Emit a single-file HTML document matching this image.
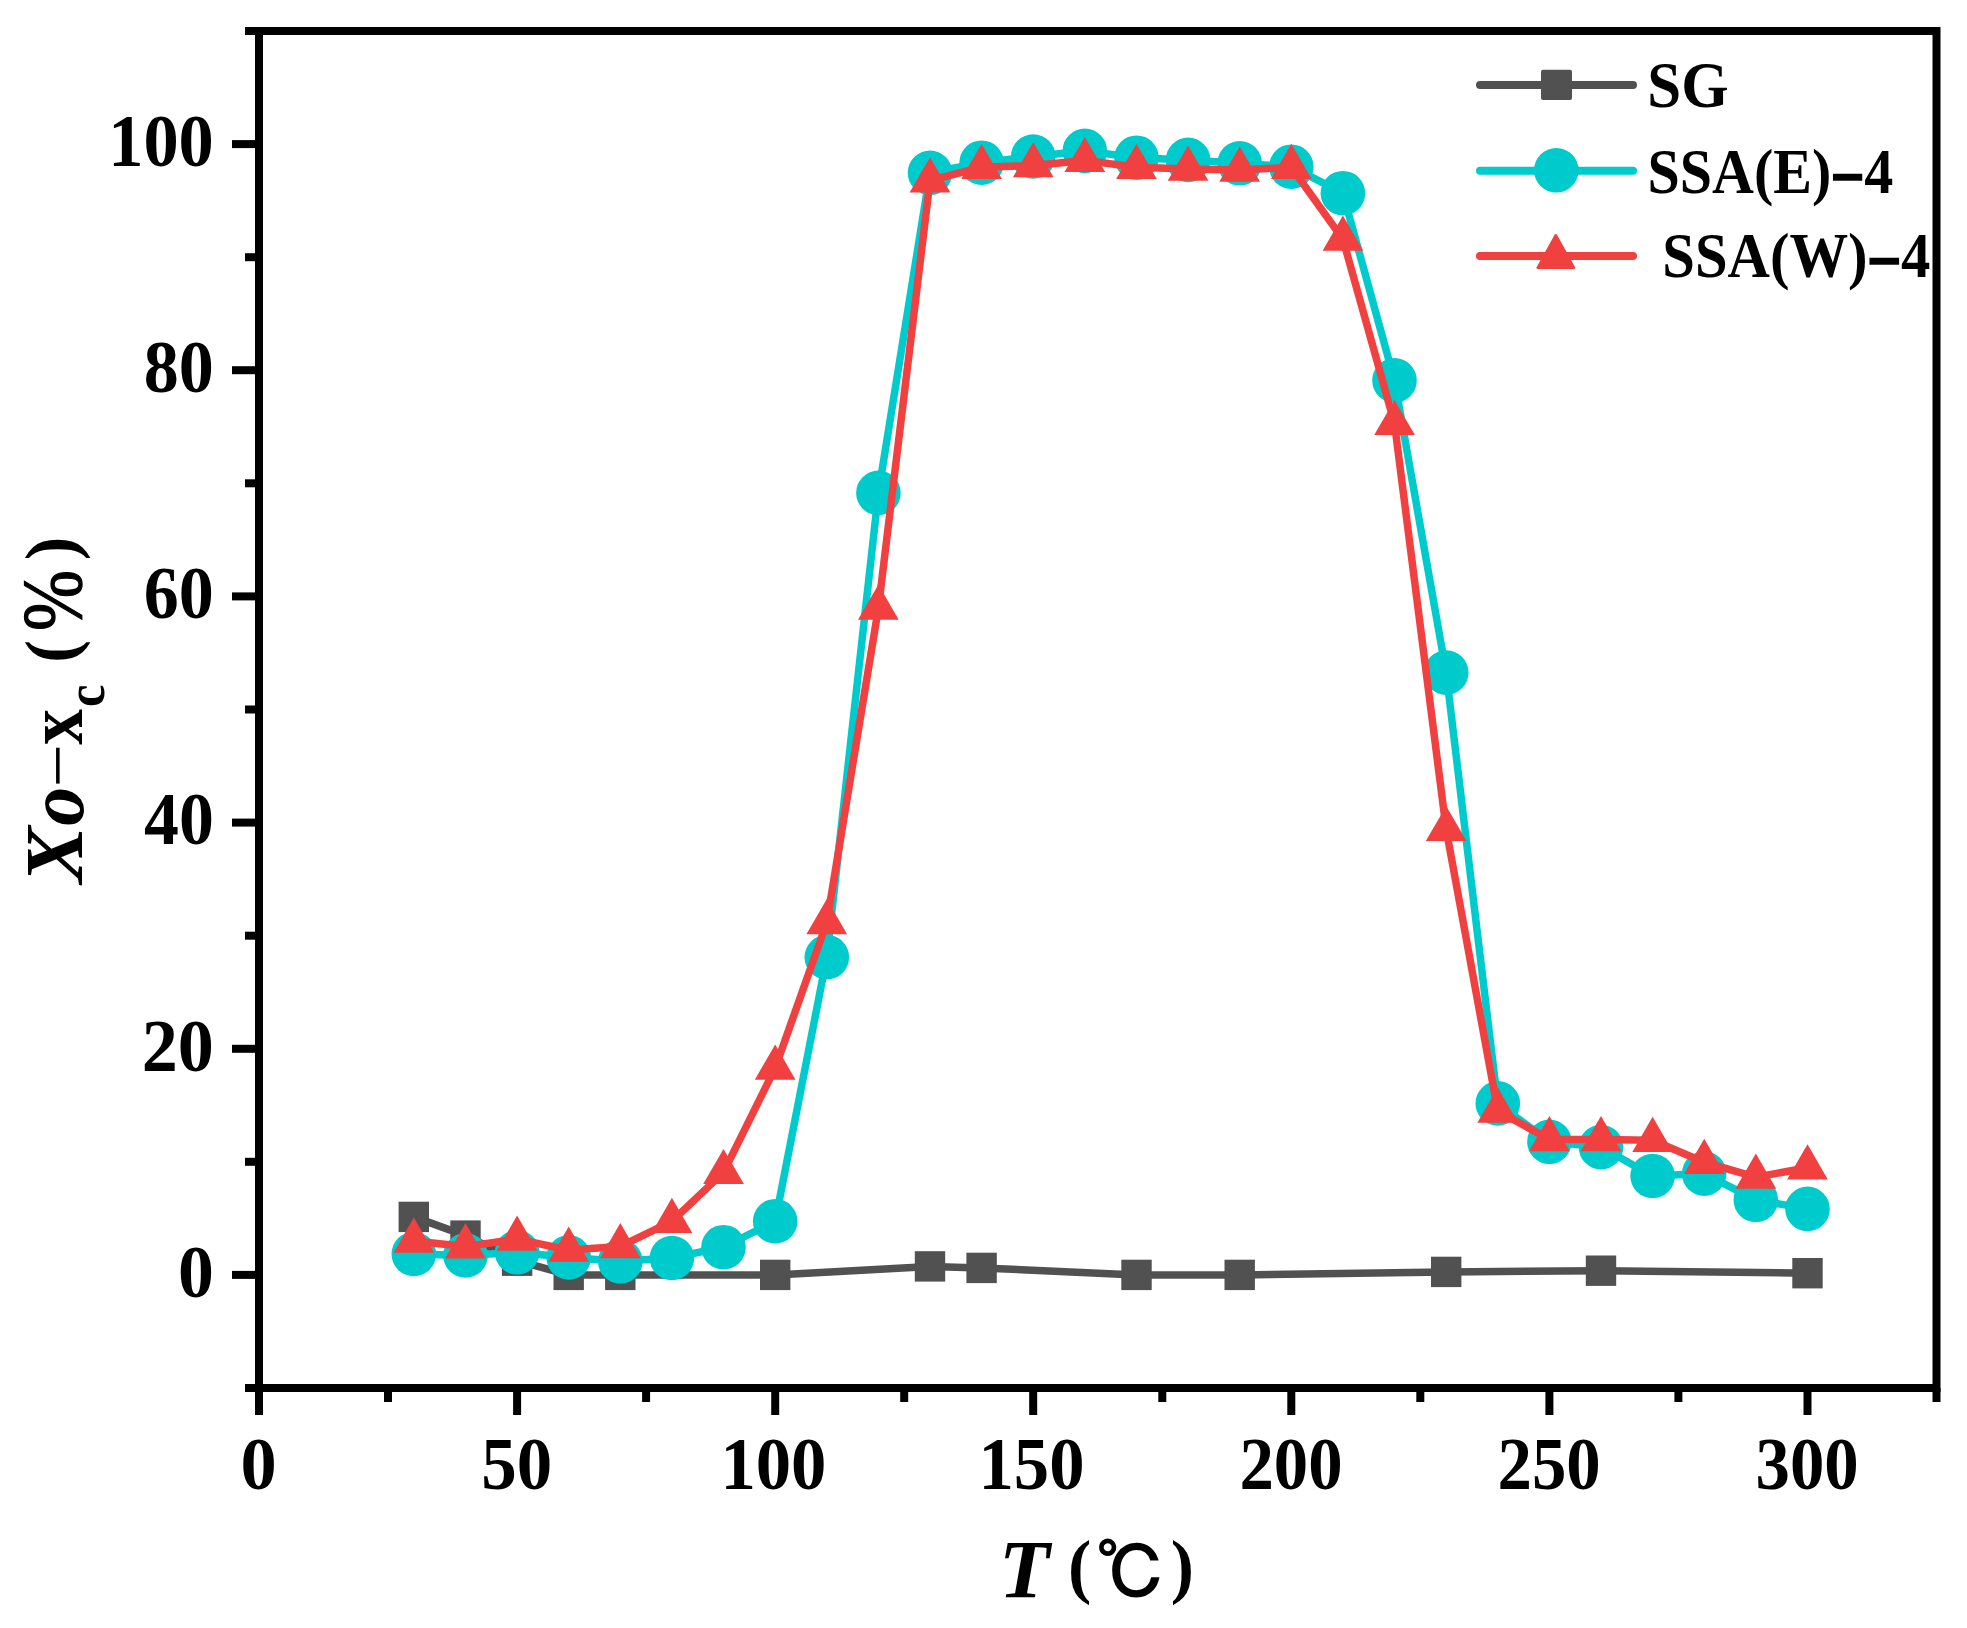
<!DOCTYPE html>
<html><head><meta charset="utf-8"><title>Chart</title>
<style>html,body{margin:0;padding:0;background:#fff}svg{display:block}</style></head>
<body>
<svg width="1967" height="1628" viewBox="0 0 1967 1628">
<rect width="1967" height="1628" fill="#fff"/>
<g id="sg">
<polyline fill="none" stroke="#515151" stroke-width="7.5" stroke-linejoin="round" points="413.8,1216.9 465.5,1235.6 517.1,1260.7 568.7,1274.9 620.3,1274.9 775.2,1274.9 930.0,1266.4 981.6,1267.9 1136.5,1274.9 1239.7,1274.9 1446.2,1271.9 1601.0,1270.7 1807.5,1273.2"/>
<rect x="398.6" y="1201.7" width="30.4" height="30.4" fill="#515151"/>
<rect x="450.3" y="1220.4" width="30.4" height="30.4" fill="#515151"/>
<rect x="501.9" y="1245.5" width="30.4" height="30.4" fill="#515151"/>
<rect x="553.5" y="1259.7" width="30.4" height="30.4" fill="#515151"/>
<rect x="605.1" y="1259.7" width="30.4" height="30.4" fill="#515151"/>
<rect x="760.0" y="1259.7" width="30.4" height="30.4" fill="#515151"/>
<rect x="914.8" y="1251.2" width="30.4" height="30.4" fill="#515151"/>
<rect x="966.4" y="1252.7" width="30.4" height="30.4" fill="#515151"/>
<rect x="1121.3" y="1259.7" width="30.4" height="30.4" fill="#515151"/>
<rect x="1224.5" y="1259.7" width="30.4" height="30.4" fill="#515151"/>
<rect x="1431.0" y="1256.7" width="30.4" height="30.4" fill="#515151"/>
<rect x="1585.8" y="1255.5" width="30.4" height="30.4" fill="#515151"/>
<rect x="1792.3" y="1258.0" width="30.4" height="30.4" fill="#515151"/>
</g>
<g id="e">
<polyline fill="none" stroke="#00cbcc" stroke-width="7.5" stroke-linejoin="round" points="413.8,1254.0 465.5,1255.4 517.1,1252.3 568.7,1257.4 620.3,1261.3 671.9,1258.0 723.5,1247.2 775.2,1221.2 826.8,957.2 878.4,492.9 930.0,172.8 981.6,162.7 1033.2,156.5 1084.8,150.9 1136.5,157.7 1188.1,159.9 1239.7,163.3 1291.3,166.7 1342.9,193.2 1394.5,380.4 1446.2,672.6 1497.8,1103.4 1549.4,1141.8 1601.0,1147.1 1652.6,1176.0 1704.2,1173.6 1755.8,1199.9 1807.5,1208.9"/>
<circle cx="413.8" cy="1254.0" r="22.3" fill="#00cbcc"/>
<circle cx="465.5" cy="1255.4" r="22.3" fill="#00cbcc"/>
<circle cx="517.1" cy="1252.3" r="22.3" fill="#00cbcc"/>
<circle cx="568.7" cy="1257.4" r="22.3" fill="#00cbcc"/>
<circle cx="620.3" cy="1261.3" r="22.3" fill="#00cbcc"/>
<circle cx="671.9" cy="1258.0" r="22.3" fill="#00cbcc"/>
<circle cx="723.5" cy="1247.2" r="22.3" fill="#00cbcc"/>
<circle cx="775.2" cy="1221.2" r="22.3" fill="#00cbcc"/>
<circle cx="826.8" cy="957.2" r="22.3" fill="#00cbcc"/>
<circle cx="878.4" cy="492.9" r="22.3" fill="#00cbcc"/>
<circle cx="930.0" cy="172.8" r="22.3" fill="#00cbcc"/>
<circle cx="981.6" cy="162.7" r="22.3" fill="#00cbcc"/>
<circle cx="1033.2" cy="156.5" r="22.3" fill="#00cbcc"/>
<circle cx="1084.8" cy="150.9" r="22.3" fill="#00cbcc"/>
<circle cx="1136.5" cy="157.7" r="22.3" fill="#00cbcc"/>
<circle cx="1188.1" cy="159.9" r="22.3" fill="#00cbcc"/>
<circle cx="1239.7" cy="163.3" r="22.3" fill="#00cbcc"/>
<circle cx="1291.3" cy="166.7" r="22.3" fill="#00cbcc"/>
<circle cx="1342.9" cy="193.2" r="22.3" fill="#00cbcc"/>
<circle cx="1394.5" cy="380.4" r="22.3" fill="#00cbcc"/>
<circle cx="1446.2" cy="672.6" r="22.3" fill="#00cbcc"/>
<circle cx="1497.8" cy="1103.4" r="22.3" fill="#00cbcc"/>
<circle cx="1549.4" cy="1141.8" r="22.3" fill="#00cbcc"/>
<circle cx="1601.0" cy="1147.1" r="22.3" fill="#00cbcc"/>
<circle cx="1652.6" cy="1176.0" r="22.3" fill="#00cbcc"/>
<circle cx="1704.2" cy="1173.6" r="22.3" fill="#00cbcc"/>
<circle cx="1755.8" cy="1199.9" r="22.3" fill="#00cbcc"/>
<circle cx="1807.5" cy="1208.9" r="22.3" fill="#00cbcc"/>
</g>
<g id="w">
<polyline fill="none" stroke="#f14040" stroke-width="7.5" stroke-linejoin="round" points="413.8,1241.0 465.5,1246.6 517.1,1239.1 568.7,1250.0 620.3,1246.4 671.9,1221.3 723.5,1172.4 775.2,1068.0 826.8,922.5 878.4,608.1 930.0,180.7 981.6,167.2 1033.2,165.6 1084.8,160.4 1136.5,167.2 1188.1,169.0 1239.7,170.1 1291.3,167.2 1342.9,239.1 1394.5,423.4 1446.2,829.4 1497.8,1110.9 1549.4,1139.4 1601.0,1139.4 1652.6,1140.3 1704.2,1162.2 1755.8,1177.1 1807.5,1167.8"/>
<path d="M413.8,1217.5 L434.2,1252.7 L393.5,1252.7Z" fill="#f14040"/>
<path d="M465.5,1223.1 L485.8,1258.4 L445.1,1258.4Z" fill="#f14040"/>
<path d="M517.1,1215.6 L537.4,1250.8 L496.7,1250.8Z" fill="#f14040"/>
<path d="M568.7,1226.5 L589.0,1261.8 L548.3,1261.8Z" fill="#f14040"/>
<path d="M620.3,1222.9 L640.7,1258.2 L600.0,1258.2Z" fill="#f14040"/>
<path d="M671.9,1197.8 L692.3,1233.1 L651.6,1233.1Z" fill="#f14040"/>
<path d="M723.5,1148.9 L743.9,1184.1 L703.2,1184.1Z" fill="#f14040"/>
<path d="M775.2,1044.5 L795.5,1079.7 L754.8,1079.7Z" fill="#f14040"/>
<path d="M826.8,899.0 L847.1,934.3 L806.4,934.3Z" fill="#f14040"/>
<path d="M878.4,584.6 L898.7,619.8 L858.0,619.8Z" fill="#f14040"/>
<path d="M930.0,157.2 L950.4,192.5 L909.6,192.5Z" fill="#f14040"/>
<path d="M981.6,143.7 L1002.0,178.9 L961.3,178.9Z" fill="#f14040"/>
<path d="M1033.2,142.1 L1053.6,177.3 L1012.9,177.3Z" fill="#f14040"/>
<path d="M1084.8,136.9 L1105.2,172.1 L1064.5,172.1Z" fill="#f14040"/>
<path d="M1136.5,143.7 L1156.8,178.9 L1116.1,178.9Z" fill="#f14040"/>
<path d="M1188.1,145.5 L1208.4,180.7 L1167.7,180.7Z" fill="#f14040"/>
<path d="M1239.7,146.6 L1260.0,181.8 L1219.3,181.8Z" fill="#f14040"/>
<path d="M1291.3,143.7 L1311.7,178.9 L1271.0,178.9Z" fill="#f14040"/>
<path d="M1342.9,215.6 L1363.3,250.8 L1322.6,250.8Z" fill="#f14040"/>
<path d="M1394.5,399.9 L1414.9,435.1 L1374.2,435.1Z" fill="#f14040"/>
<path d="M1446.2,805.9 L1466.5,841.1 L1425.8,841.1Z" fill="#f14040"/>
<path d="M1497.8,1087.4 L1518.1,1122.7 L1477.4,1122.7Z" fill="#f14040"/>
<path d="M1549.4,1115.9 L1569.7,1151.2 L1529.0,1151.2Z" fill="#f14040"/>
<path d="M1601.0,1115.9 L1621.4,1151.2 L1580.6,1151.2Z" fill="#f14040"/>
<path d="M1652.6,1116.8 L1673.0,1152.1 L1632.3,1152.1Z" fill="#f14040"/>
<path d="M1704.2,1138.7 L1724.6,1173.9 L1683.9,1173.9Z" fill="#f14040"/>
<path d="M1755.8,1153.6 L1776.2,1188.8 L1735.5,1188.8Z" fill="#f14040"/>
<path d="M1807.5,1144.3 L1827.8,1179.6 L1787.1,1179.6Z" fill="#f14040"/>
</g>
<g stroke="#000" stroke-width="8" fill="none" stroke-linecap="butt">
<rect x="259.0" y="31.0" width="1677.5" height="1357.0"/>
<line x1="245.0" y1="1388.0" x2="259.0" y2="1388.0"/>
<line x1="232.0" y1="1274.9" x2="259.0" y2="1274.9"/>
<line x1="245.0" y1="1161.8" x2="259.0" y2="1161.8"/>
<line x1="232.0" y1="1048.8" x2="259.0" y2="1048.8"/>
<line x1="245.0" y1="935.7" x2="259.0" y2="935.7"/>
<line x1="232.0" y1="822.6" x2="259.0" y2="822.6"/>
<line x1="245.0" y1="709.5" x2="259.0" y2="709.5"/>
<line x1="232.0" y1="596.4" x2="259.0" y2="596.4"/>
<line x1="245.0" y1="483.3" x2="259.0" y2="483.3"/>
<line x1="232.0" y1="370.2" x2="259.0" y2="370.2"/>
<line x1="245.0" y1="257.2" x2="259.0" y2="257.2"/>
<line x1="232.0" y1="144.1" x2="259.0" y2="144.1"/>
<line x1="245.0" y1="31.0" x2="259.0" y2="31.0"/>
<line x1="259.0" y1="1388.0" x2="259.0" y2="1415.0"/>
<line x1="388.0" y1="1388.0" x2="388.0" y2="1402.0"/>
<line x1="517.1" y1="1388.0" x2="517.1" y2="1415.0"/>
<line x1="646.1" y1="1388.0" x2="646.1" y2="1402.0"/>
<line x1="775.2" y1="1388.0" x2="775.2" y2="1415.0"/>
<line x1="904.2" y1="1388.0" x2="904.2" y2="1402.0"/>
<line x1="1033.2" y1="1388.0" x2="1033.2" y2="1415.0"/>
<line x1="1162.3" y1="1388.0" x2="1162.3" y2="1402.0"/>
<line x1="1291.3" y1="1388.0" x2="1291.3" y2="1415.0"/>
<line x1="1420.3" y1="1388.0" x2="1420.3" y2="1402.0"/>
<line x1="1549.4" y1="1388.0" x2="1549.4" y2="1415.0"/>
<line x1="1678.4" y1="1388.0" x2="1678.4" y2="1402.0"/>
<line x1="1807.5" y1="1388.0" x2="1807.5" y2="1415.0"/>
<line x1="1936.5" y1="1388.0" x2="1936.5" y2="1402.0"/>
</g>
<g stroke-width="8" stroke-linecap="round">
<line x1="1480" y1="84.9" x2="1633" y2="84.9" stroke="#515151"/>
<line x1="1480" y1="170.8" x2="1633" y2="170.8" stroke="#00cbcc"/>
<line x1="1480" y1="256.1" x2="1633" y2="256.1" stroke="#f14040"/>
</g>
<rect x="1541" y="69.8" width="31" height="30.2" rx="2" fill="#515151"/>
<circle cx="1556.3" cy="170.3" r="22.3" fill="#00cbcc"/>
<path d="M1555.8,235.2 L1574,267.8 L1537.6,267.8Z" fill="#f14040" stroke="#f14040" stroke-width="2.4" stroke-linejoin="round"/>
<g fill="#000" font-size="100">
<text font-family="'Liberation Serif', serif" font-weight="bold" transform="translate(178.03,1296.72) scale(0.7167,0.7463)">0</text>
<text font-family="'Liberation Serif', serif" font-weight="bold" transform="translate(141.82,1070.56) scale(0.7207,0.7463)">20</text>
<text font-family="'Liberation Serif', serif" font-weight="bold" transform="translate(144.00,844.39) scale(0.6979,0.7463)">40</text>
<text font-family="'Liberation Serif', serif" font-weight="bold" transform="translate(143.80,618.22) scale(0.7000,0.7463)">60</text>
<text font-family="'Liberation Serif', serif" font-weight="bold" transform="translate(143.80,392.06) scale(0.7000,0.7463)">80</text>
<text font-family="'Liberation Serif', serif" font-weight="bold" transform="translate(108.27,165.91) scale(0.7036,0.7353)">100</text>
<text font-family="'Liberation Serif', serif" font-weight="bold" transform="translate(240.60,1489.11) scale(0.7238,0.7463)">0</text>
<text font-family="'Liberation Serif', serif" font-weight="bold" transform="translate(481.29,1489.11) scale(0.7098,0.7463)">50</text>
<text font-family="'Liberation Serif', serif" font-weight="bold" transform="translate(720.40,1489.13) scale(0.7072,0.7353)">100</text>
<text font-family="'Liberation Serif', serif" font-weight="bold" transform="translate(978.47,1489.13) scale(0.7072,0.7353)">150</text>
<text font-family="'Liberation Serif', serif" font-weight="bold" transform="translate(1239.46,1489.11) scale(0.6873,0.7463)">200</text>
<text font-family="'Liberation Serif', serif" font-weight="bold" transform="translate(1497.54,1489.11) scale(0.6873,0.7463)">250</text>
<text font-family="'Liberation Serif', serif" font-weight="bold" transform="translate(1755.61,1489.11) scale(0.6873,0.7463)">300</text>
<text font-family="'Liberation Serif', serif" font-weight="bold" transform="translate(1647.35,107.40) scale(0.6095,0.6478)">SG</text>
<text font-family="'Liberation Serif', serif" font-weight="bold" transform="translate(1647.50,192.79) scale(0.5803,0.6244)">SSA(E)<tspan dy="8" stroke="#000" stroke-width="4">−</tspan><tspan dy="-8">4</tspan></text>
<text font-family="'Liberation Serif', serif" font-weight="bold" transform="translate(1662.27,277.39) scale(0.5869,0.6244)">SSA(W)<tspan dy="8" stroke="#000" stroke-width="4">−</tspan><tspan dy="-8">4</tspan></text>
<g id="xlabel"><text font-family="'Liberation Serif', serif" font-weight="bold" font-style="italic" transform="translate(999.10,1597.20) scale(0.8281,0.8215)">T </text><text font-family="'Liberation Serif', serif" font-weight="bold" transform="translate(1068.00,1590.04) scale(0.7000,0.7122)">(</text><text font-family="'Liberation Serif', 'IPAGothic', sans-serif" stroke="#000" stroke-width="2.2" transform="translate(1096.20,1599.44) scale(0.6988,0.7195)">℃</text><text font-family="'Liberation Serif', serif" font-weight="bold" transform="translate(1170.81,1590.04) scale(0.6962,0.7122)">)</text></g>
<g id="ylabel"><text font-family="'Liberation Serif', serif" font-weight="bold" font-style="italic" transform="translate(82.30,883.19) rotate(-90) scale(0.8563,0.8231)">X</text><text font-family="'Liberation Serif', serif" font-weight="bold" font-style="italic" transform="translate(82.99,825.66) rotate(-90) scale(0.7778,0.8062)">o</text><text font-family="'Liberation Serif', serif" font-weight="bold" transform="translate(75.23,788.06) rotate(-90) scale(0.7723,0.5143)">−</text><text font-family="'Liberation Serif', serif" font-weight="bold" transform="translate(82.30,744.80) rotate(-90) scale(0.7143,0.8087)">x</text><text font-family="'Liberation Serif', serif" font-weight="bold" transform="translate(103.55,707.02) rotate(-90) scale(0.5051,0.5458)">c </text><text font-family="'Liberation Serif', serif" font-weight="bold" transform="translate(75.24,662.74) rotate(-90) scale(0.6846,0.7122)">(</text><text font-family="'Liberation Serif', serif" stroke="#000" stroke-width="1.5" transform="translate(80.66,630.90) rotate(-90) scale(0.7321,0.8464)">%</text><text font-family="'Liberation Serif', serif" font-weight="bold" transform="translate(75.24,560.22) rotate(-90) scale(0.7077,0.7122)">)</text></g>
</g>
</svg>
</body></html>
